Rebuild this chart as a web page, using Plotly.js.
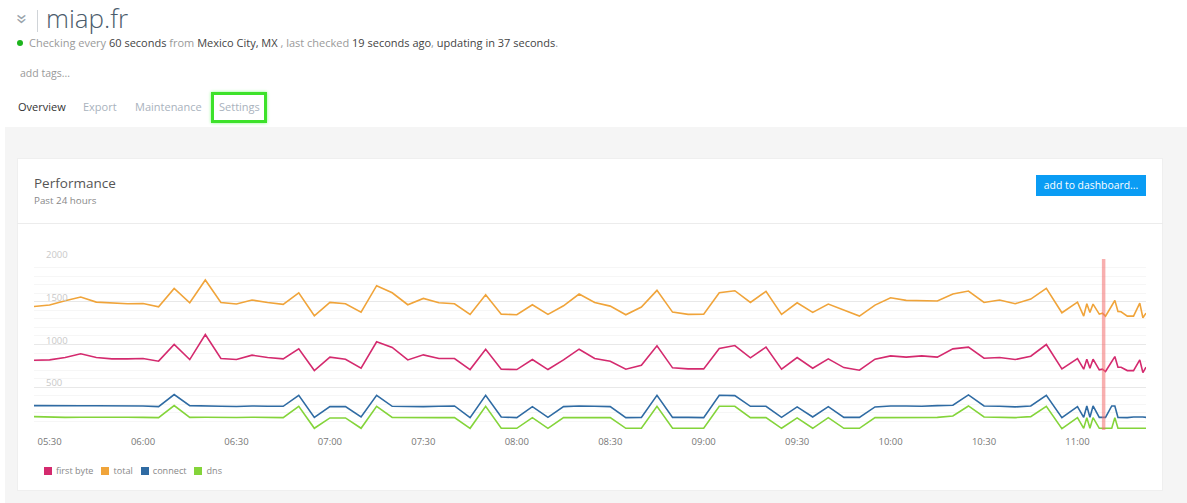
<!DOCTYPE html>
<html>
<head>
<meta charset="utf-8">
<script src="https://cdn.plot.ly/plotly-3.0.1.min.js"></script>
<style>
  html, body { margin:0; padding:0; width:1187px; height:503px; overflow:hidden; background:#fff; font-family:"Open Sans", sans-serif; }
  .abs { position:absolute; white-space:nowrap; line-height:1.2; }
  #chev { left:18px; top:9px; font-size:20px; line-height:20px; color:#9aa3ab; transform:rotate(90deg); }
  #vbar { left:37px; top:10px; width:1px; height:22px; background:#d0d4d8; }
  #title { left:46px; top:3px; font-size:26px; line-height:30px; font-weight:300; color:#4b5b6b; }
  #dot { left:17px; top:40px; width:6px; height:6px; border-radius:50%; background:#1db41d; }
  #status { left:29px; top:36px; font-size:11px; line-height:14px; color:#9a9a9a; }
  #status b { font-weight:400; color:#444; }
  #tags { left:20px; top:67px; font-size:10.5px; color:#999; }
  .tab { top:100px; font-size:11px; color:#a9b2bd; }
  #hl { left:211px; top:92px; width:50px; height:25px; border:3px solid #3de22a; box-shadow:0 0 3px #8f8; }
  #bg { left:5px; top:127px; width:1182px; height:376px; background:#f5f5f5; }
  #card { left:17px; top:158px; width:1146px; height:333px; background:#fff; border:1px solid #efefef; box-sizing:border-box; }
  #sep { left:17px; top:223px; width:1146px; height:1px; background:#ececec; }
  #perf { left:34px; top:175px; font-size:13.5px; color:#555; }
  #past { left:34px; top:195px; font-size:9.8px; color:#888; }
  #btn { left:1036px; top:175px; width:110px; height:21px; background:#0a9cf4; color:#fff; font-size:10.4px; line-height:21px; text-align:center; }
  #plot { left:0px; top:230px; width:1187px; height:230px; }
  #legend { left:44px; top:466px; font-size:9.1px; color:#888; }
  #legend span.sw { display:inline-block; width:8px; height:8px; margin-right:4px; vertical-align:-1px; }
  #legend span.it { margin-right:8px; }
</style>
</head>
<body>
<div class="abs" id="bg"></div>
<div class="abs" id="card"></div>
<div class="abs" id="sep"></div>
<div class="abs" id="chev">»</div>
<div class="abs" id="vbar"></div>
<div class="abs" id="title">miap.fr</div>
<div class="abs" id="dot"></div>
<div class="abs" id="status">Checking every <b>60 seconds</b> from <b>Mexico City, MX</b> , last checked <b>19 seconds ago</b>, <b>updating in 37 seconds</b>.</div>
<div class="abs" id="tags">add tags...</div>
<div class="abs tab" style="left:18px;color:#333;">Overview</div>
<div class="abs tab" style="left:83px;">Export</div>
<div class="abs tab" style="left:135px;">Maintenance</div>
<div class="abs tab" style="left:219px;">Settings</div>
<div class="abs" id="hl"></div>
<div class="abs" id="perf">Performance</div>
<div class="abs" id="past">Past 24 hours</div>
<div class="abs" id="btn">add to dashboard...</div>
<div class="abs" id="plot"></div>
<div class="abs" id="legend"></div>
<script>
const day = '2017-03-01 ';
const times = ['05:25','05:30','05:35','05:40','05:45','05:50','05:55','06:00','06:05','06:10',
  '06:15','06:20','06:25','06:30','06:35','06:40','06:45','06:50','06:55','07:00',
  '07:05','07:10','07:15','07:20','07:25','07:30','07:35','07:40','07:45','07:50',
  '07:55','08:00','08:05','08:10','08:15','08:20','08:25','08:30','08:35','08:40',
  '08:45','08:50','08:55','09:00','09:05','09:10','09:15','09:20','09:25','09:30',
  '09:35','09:40','09:45','09:50','09:55','10:00','10:05','10:10','10:15','10:20',
  '10:25','10:30','10:35','10:40','10:45','10:50','10:55','11:00',
  '11:02','11:03','11:04','11:05','11:07','11:08','11:09','11:11','11:12','11:13',
  '11:14','11:16','11:18','11:20','11:21','11:22'];

const firstByte = [816,820,848,891,848,832,832,836,805,1000,
  824,1117,836,824,875,848,832,949,695,852,
  828,723,1031,965,820,879,836,836,707,945,
  711,707,824,707,820,945,836,805,711,758,
  984,727,715,715,953,988,844,969,711,848,
  723,832,730,699,828,867,852,867,852,949,
  969,840,848,824,863,1000,715,836,
  711,828,723,828,703,711,684,800,859,734,
  734,695,695,820,672,734];

const total = [1445,1461,1512,1555,1496,1488,1477,1480,1441,1656,
  1488,1754,1492,1473,1520,1492,1469,1605,1336,1492,
  1477,1379,1688,1605,1465,1539,1488,1477,1352,1582,
  1355,1348,1465,1352,1453,1590,1492,1449,1348,1438,
  1633,1379,1352,1355,1605,1629,1492,1621,1352,1488,
  1375,1473,1402,1332,1461,1547,1516,1512,1508,1590,
  1625,1492,1520,1477,1531,1656,1371,1496,
  1332,1477,1375,1473,1355,1367,1332,1453,1516,1387,
  1383,1332,1332,1484,1313,1367];

const connect = [285,282,282,283,283,283,282,280,273,414,
  285,285,278,274,281,277,277,406,148,273,
  273,152,406,277,273,273,277,281,145,406,
  152,145,273,148,273,281,277,273,145,148,
  406,148,148,145,406,402,277,277,148,270,
  152,273,148,148,270,281,281,277,285,289,
  410,281,277,270,281,406,145,273,
  148,281,148,281,148,148,148,281,281,148,
  145,145,152,156,152,148];

const dns = [156,150,148,150,152,151,150,148,145,285,
  148,150,146,146,150,148,145,277,20,141,
  141,20,277,148,145,145,145,145,20,277,
  20,20,145,20,145,145,145,145,20,20,
  277,20,20,20,277,277,145,145,20,141,
  20,145,20,20,145,145,145,145,148,164,
  281,152,148,145,156,277,16,145,
  20,145,20,145,20,20,20,20,145,20,
  20,20,20,20,20,20];

const seriesNames = ['first byte','total','connect','dns'];
const seriesColors = ['#d42a6e','#f0a43a','#2f6ba3','#84d43a'];
const yTicks = [500,1000,1500,2000];
const yTickText = ['500','1000','1500','2000'];
const xRange = ['05:25','11:22'];
const markerTime = '11:08:24';

const x = times.map(t => day + t);
const values = [firstByte, total, connect, dns];
const traces = values.map((v, i) => ({
  type:'scatter', mode:'lines', x:x, y:v, name:seriesNames[i],
  line:{color:seriesColors[i], width:1.6}, hoverinfo:'skip', showlegend:false
}));

const yLabels = yTicks.map((v, i) => ({
  xref:'paper', yref:'y', x:0, y:v, xanchor:'left', yanchor:'bottom', xshift:10, yshift:-4,
  text:yTickText[i], showarrow:false, font:{size:9.5, color:'#c9c9c9'}
}));

const layout = {
  width:1187, height:230,
  margin:{l:34, r:41, t:29, b:30},
  paper_bgcolor:'rgba(0,0,0,0)', plot_bgcolor:'rgba(0,0,0,0)',
  font:{family:'"Open Sans", sans-serif'},
  showlegend:false,
  xaxis:{type:'date', range:[day+xRange[0], day+xRange[1]], tick0:day+'05:30', dtick:30*60*1000,
    tickformat:'%H:%M', showgrid:false, zeroline:false, showline:false, ticks:'',
    ticklabelstandoff:4, tickfont:{size:9.5, color:'#777'}},
  yaxis:{range:[0,2000], tickvals:yTicks, showticklabels:false, gridcolor:'#e8e8e8', gridwidth:1,
    zeroline:false, showline:false, ticks:'',
    minor:{dtick:100, showgrid:true, gridcolor:'#f6f6f6', gridwidth:1}},
  annotations:yLabels,
  shapes:[{type:'line', xref:'x', yref:'paper', x0:day+markerTime, x1:day+markerTime, y0:0, y1:1,
    line:{color:'rgba(242,110,110,0.55)', width:3.5}, layer:'above'}]
};
Plotly.newPlot('plot', traces, layout, {displayModeBar:false, staticPlot:true});

const leg = document.getElementById('legend');
seriesNames.forEach((n, i) => {
  const s = document.createElement('span'); s.className = 'it';
  s.innerHTML = '<span class="sw" style="background:' + seriesColors[i] + '"></span>' + n;
  leg.appendChild(s);
});
</script>
</body>
</html>
